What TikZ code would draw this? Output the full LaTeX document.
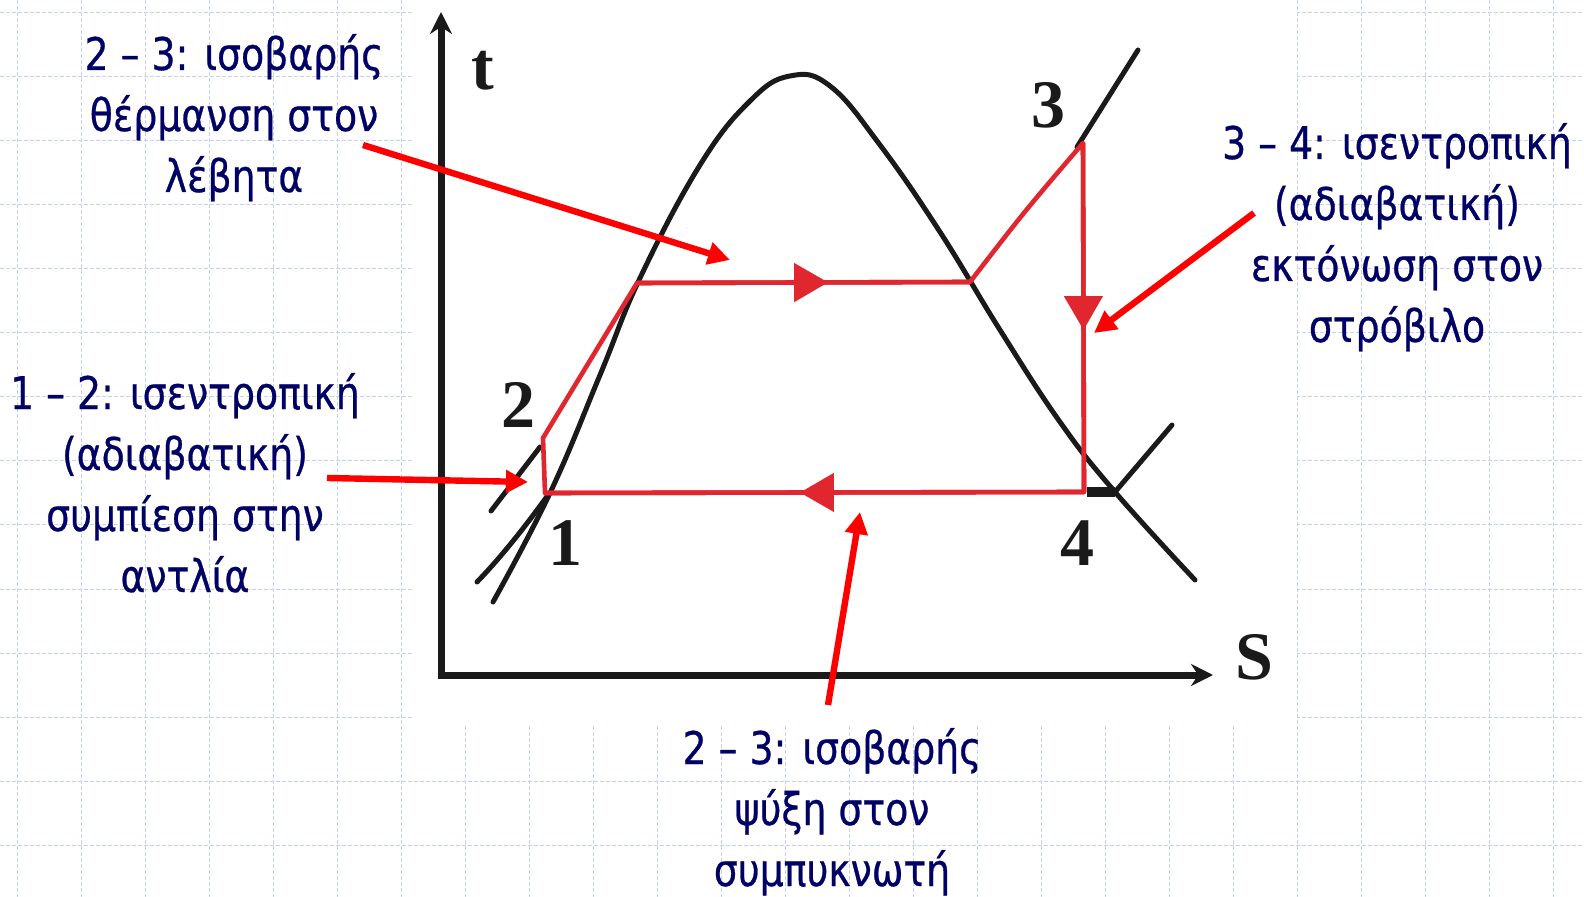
\documentclass[tikz,border=0pt]{standalone}
\usepackage{fontspec}
\setmainfont{DejaVu Sans}[FakeStretch=0.84, FakeBold=0.6]
\newfontfamily\numfont{Liberation Serif}
\usetikzlibrary{arrows.meta, decorations.markings}
\definecolor{notenavy}{HTML}{000066}
\definecolor{cyclered}{HTML}{E0262E}
\definecolor{pointred}{HTML}{FF0000}
\definecolor{gridblue}{HTML}{C5D0F2}
\definecolor{inkblack}{HTML}{1A1A1A}

\begin{document}
\begin{tikzpicture}[x=0.5pt, y=-0.5pt,
  gridline/.style = {draw=gridblue, line width=0.5pt, dash pattern=on 2pt off 1pt},
  axis/.style     = {draw=inkblack, line width=3.5pt, line join=miter,
                     {Stealth[length=11pt, width=11pt]}-{Stealth[length=11pt, width=11pt]}},
  curve/.style    = {draw=inkblack, line width=2.5pt, line cap=round},
  cyc/.style      = {draw=cyclered, line width=2.3pt, line join=round},
  midarrow/.style = {postaction={decorate}, decoration={markings,
                     mark=at position #1 with {\arrow{Triangle[length=17pt, width=19pt]}}}},
  num/.style      = {font=\numfont\bfseries\fontsize{34}{34}\selectfont, text=inkblack, inner sep=0pt},
  note/.style     = {font=\fontsize{22.5}{30.5}\selectfont, text=notenavy, align=center,
                     inner sep=0pt, anchor=base},
  pointer/.style  = {draw=pointred, line width=3.2pt, -{Triangle[length=11pt, width=11pt]}},
]
\useasboundingbox (0,0) rectangle (1584,897);

% ---- slide background
\foreach \gx in {17,81,...,1584} \draw[gridline] (\gx,0) -- (\gx,897);
\foreach \gy in {13,77,...,897} \draw[gridline] (0,\gy) -- (1584,\gy);
\fill[white] (413,0) rectangle (1297,725);

% ---- axes
\coordinate (orig) at (441,675);
\coordinate (ttip) at (441,12);
\coordinate (stip) at (1213,675);
\draw[axis] (ttip) -- (orig) -- (stip);
\node[num] (tlab) at (483,71) {t};
\node[num] (slab) at (1254,657) {S};

% ---- saturation dome and isobars
\draw[curve] plot[smooth, tension=0.7] coordinates {(493,602) (550,493) (600,375)
  (640,278) (700,165) (750,101) (790,76) (830,86) (880,145) (940,232)
  (1000,330) (1060,422) (1115,492) (1195,580)};
\draw[curve] (477,582) .. controls (505,553) and (530,520) .. (548,495);
\draw[curve] (491,511) -- (540,447);
\draw[curve] (1077,147) -- (1138,50);
\draw[curve] (1115,492) -- (1172,425);
\draw[inkblack, line width=5pt] (1087,492) -- (1115,492);

% ---- the cycle
\coordinate (pt1) at (545,493);
\coordinate (pt2) at (543,438);
\coordinate (liq) at (637,283);
\coordinate (vap) at (970,282);
\coordinate (pt3) at (1083,143);
\coordinate (pt4) at (1084,492);
\draw[cyc] (pt1) -- (pt2) -- (liq) -- (vap) .. controls (1024,212) .. (pt3) -- (pt4) -- cycle;
\draw[cyc, midarrow=0.574] (liq) -- (vap);
\draw[cyc, midarrow=0.536] (pt3) -- (pt4);
\draw[cyc, midarrow=0.527] (pt4) -- (pt1);

\node[num] (lab1) at (565,543) {1};
\node[num] (lab2) at (518,405) {2};
\node[num] (lab3) at (1048,105) {3};
\node[num] (lab4) at (1077,543) {4};

% ---- what each step is (anchored on the last line)
\node[note] (heattxt) at (234,192) {2 – 3: ισοβαρής\\θέρμανση στον\\λέβητα};
\node[note] (turbtxt) at (1397,342) {3 – 4: ισεντροπική\\(αδιαβατική)\\εκτόνωση στον\\στρόβιλο};
\node[note] (pumptxt) at (185,592) {1 – 2: ισεντροπική\\(αδιαβατική)\\συμπίεση στην\\αντλία};
\node[note] (condtxt) at (832,886) {2 – 3: ισοβαρής\\ψύξη στον\\συμπυκνωτή};

\coordinate (heatfrom) at (363,145);  \coordinate (heatto) at (730,260);
\coordinate (turbfrom) at (1254,213); \coordinate (turbto) at (1094,333);
\coordinate (pumpfrom) at (327,478);  \coordinate (pumpto) at (528,482);
\coordinate (condfrom) at (828,705);  \coordinate (condto) at (860,512);
\draw[pointer] (heatfrom) -- (heatto);
\draw[pointer] (turbfrom) -- (turbto);
\draw[pointer] (pumpfrom) -- (pumpto);
\draw[pointer] (condfrom) -- (condto);

\end{tikzpicture}
\end{document}
